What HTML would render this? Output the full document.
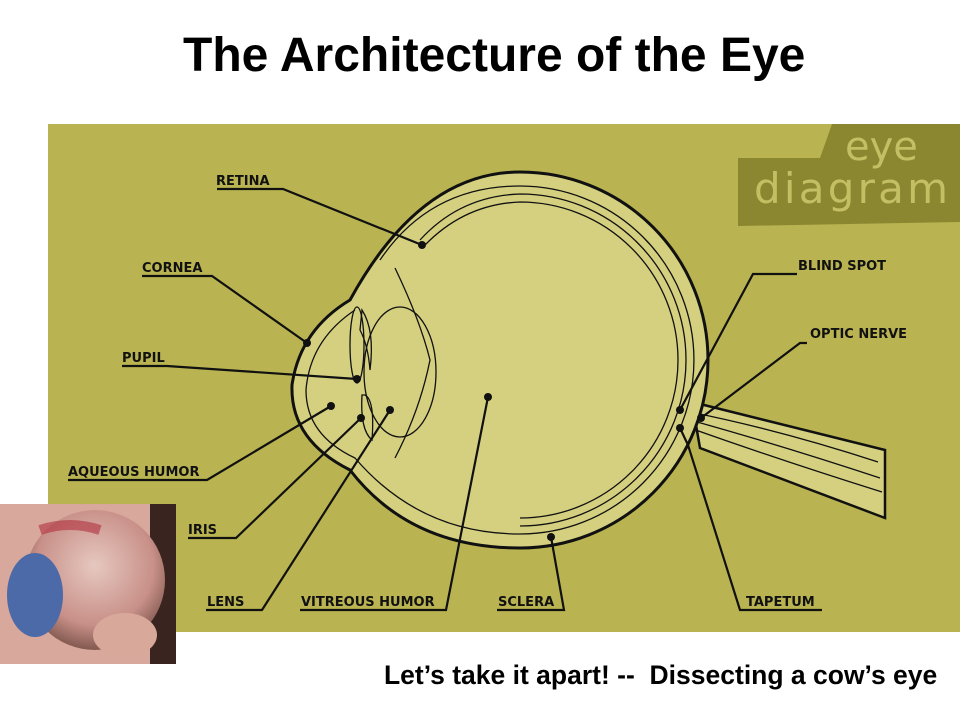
<!DOCTYPE html>
<html><head><meta charset="utf-8"><style>
body{margin:0;width:960px;height:720px;background:#fff;overflow:hidden;position:relative;font-family:"Liberation Sans",sans-serif}
.t{position:absolute;top:28px;left:183px;width:622px;text-align:center;font-weight:bold;font-size:48px;color:#000;white-space:nowrap}
.b{position:absolute;left:384px;top:660px;font-weight:bold;font-size:26.5px;color:#000;white-space:nowrap}
</style></head><body>
<div class="t">The Architecture of the Eye</div>
<svg width="960" height="720" style="position:absolute;left:0;top:0">
<defs>
<radialGradient id="sk" cx="0.5" cy="0.4" r="0.7"><stop offset="0" stop-color="#e6c8c0"/><stop offset="0.6" stop-color="#c89088"/><stop offset="1" stop-color="#5a3a30"/></radialGradient>
</defs>
<rect x="48" y="124" width="912" height="508" fill="#b9b451"/>
<path d="M738 158 L820 158 L832 124 L960 124 L960 222 L738 226 Z" fill="#8b8731"/>
<text x="845" y="160" font-family="DejaVu Sans,sans-serif" font-size="40" fill="#c4bf64">eye</text>
<text x="754" y="203" font-family="DejaVu Sans,sans-serif" font-size="42" fill="#c4bf64" textLength="194">diagram</text>
<path d="M692 402 L885 450 L885 518 L700 448 Z" fill="#d5d080" stroke="#111" stroke-width="2.5"/>
<g fill="none" stroke="#111" stroke-width="1.3">
<path d="M690 412 Q780 430 878 462"/><path d="M690 420 Q780 445 880 478"/><path d="M690 428 Q780 460 882 492"/>
</g>
<path d="M350 300 Q300 330 292 385 Q290 440 350 470 Q410 548 520 548 A188 188 0 0 0 520 172 Q420 172 350 300 Z" fill="#d5d080" stroke="#111" stroke-width="3"/>
<g fill="none" stroke="#111" stroke-width="1.3">
<path d="M355 310 Q310 340 306 390 Q306 435 355 458 Q420 534 520 534 A174 174 0 0 0 520 186 Q430 186 380 260"/>
<path d="M420 240 Q460 196 520 194 A166 166 0 0 1 686 360 A166 166 0 0 1 520 526"/>
<path d="M425 245 Q465 204 520 202 A158 158 0 0 1 678 360 A158 158 0 0 1 520 518"/>
<path d="M395 268 Q420 320 430 360 Q420 410 395 458"/>
<ellipse cx="400" cy="372" rx="36" ry="65"/>
<path d="M362 310 Q375 330 370 370 Q368 345 360 330 Z"/>
<path d="M365 395 Q375 400 372 440 Q360 430 362 395 Z"/>
<ellipse cx="357" cy="345" rx="7" ry="38"/>
</g>
<g stroke="#111" stroke-width="2.2" fill="none">
<polyline points="217,189 283,189 422,245"/>
<polyline points="142,276 212,276 307,343"/>
<polyline points="122,366 167,366 357,379"/>
<polyline points="68,480 207,480 331,406"/>
<polyline points="188,538 236,538 361,418"/>
<polyline points="206,610 262,610 390,410"/>
<polyline points="300,610 446,610 488,397"/>
<polyline points="497,610 564,610 551,537"/>
<polyline points="797,274 753,274 680,410"/>
<polyline points="807,343 800,343 701,418"/>
<polyline points="822,610 740,610 688,445 680,428"/>
</g>
<g fill="#111">
<circle cx="422" cy="245" r="4"/><circle cx="307" cy="343" r="4"/><circle cx="357" cy="379" r="4"/><circle cx="331" cy="406" r="4"/><circle cx="361" cy="418" r="4"/><circle cx="390" cy="410" r="4"/><circle cx="488" cy="397" r="4"/><circle cx="551" cy="537" r="4"/><circle cx="680" cy="410" r="4"/><circle cx="701" cy="418" r="4"/><circle cx="680" cy="428" r="4"/>
</g>
<g font-family="DejaVu Sans,sans-serif" font-size="13" font-weight="bold" fill="#111">
<text x="216" y="185">RETINA</text>
<text x="142" y="272">CORNEA</text>
<text x="122" y="362">PUPIL</text>
<text x="68" y="476">AQUEOUS HUMOR</text>
<text x="188" y="534">IRIS</text>
<text x="207" y="606">LENS</text>
<text x="301" y="606">VITREOUS HUMOR</text>
<text x="498" y="606">SCLERA</text>
<text x="798" y="270">BLIND SPOT</text>
<text x="810" y="338">OPTIC NERVE</text>
<text x="746" y="606">TAPETUM</text>
</g>
<rect x="0" y="504" width="176" height="160" fill="#d8a89c"/>
<rect x="150" y="504" width="26" height="160" fill="#3a2420"/>
<ellipse cx="95" cy="580" rx="70" ry="70" fill="url(#sk)"/>
<ellipse cx="35" cy="595" rx="28" ry="42" fill="#4d6aa8"/>
<ellipse cx="125" cy="635" rx="32" ry="22" fill="#d8a89a"/>
<path d="M40 530 Q70 520 100 530" stroke="#b03040" stroke-width="10" fill="none" opacity="0.6"/>
</svg>
<div class="b">Let’s take it apart! --&nbsp; Dissecting a cow’s eye</div>
</body></html>
